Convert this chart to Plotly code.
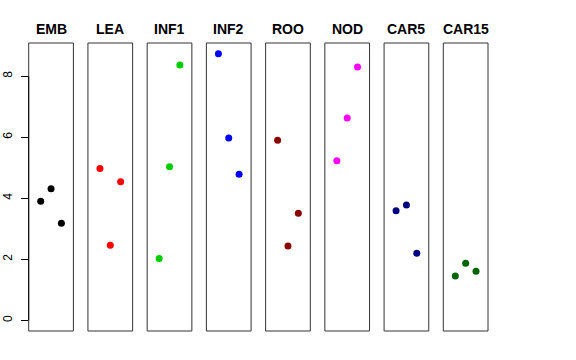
import plotly.graph_objects as go

categories = ["EMB", "LEA", "INF1", "INF2", "ROO", "NOD", "CAR5", "CAR15"]
rep = [1, 2, 3]
emb = [3.90, 4.31, 3.18]
lea = [4.98, 2.46, 4.54]
inf1 = [2.03, 5.03, 8.37]
inf2 = [8.74, 5.98, 4.79]
roo = [5.90, 2.44, 3.51]
nod = [5.23, 6.63, 8.30]
car5 = [3.59, 3.78, 2.20]
car15 = [1.45, 1.87, 1.61]
series = [emb, lea, inf1, inf2, roo, nod, car5, car15]
colors = ["#000000", "#FF0000", "#00CD00", "#0000FF", "#8B0000", "#FF00FF", "#000080", "#006400"]
yticks = [0, 2, 4, 6, 8]

W, H = 576, 360
left0, step, pw = 28.7, 59.23, 44.7
top_px, bot_px = 43, 331

ymax = max(max(s) for s in series)
ypad = 0.04 * ymax
yrange = [-ypad, ymax + ypad]
xrange_ = [-0.16, 4.16]

fig = go.Figure()
layout = dict(width=W, height=H, margin=dict(l=0, r=0, t=0, b=0, autoexpand=False),
              paper_bgcolor="white", plot_bgcolor="white", showlegend=False,
              font=dict(family="Liberation Sans, Arial, sans-serif", color="black"))
shapes = []
annotations = []
for i, (cat, vals, col) in enumerate(zip(categories, series, colors)):
    n = "" if i == 0 else str(i + 1)
    fig.add_trace(go.Scatter(x=rep, y=vals, mode="markers", xaxis="x" + n, yaxis="y" + n,
                             marker=dict(color=col, size=7, line=dict(width=0))))
    x0 = (left0 + i * step) / W
    x1 = (left0 + i * step + pw) / W
    layout["xaxis" + n] = dict(domain=[x0, x1], range=xrange_, visible=False, fixedrange=True)
    ya = dict(domain=[(H - bot_px) / H, (H - top_px) / H], range=yrange, anchor="x" + n,
              showgrid=False, zeroline=False, showline=False, fixedrange=True)
    if i == 0:
        ya.update(tickvals=yticks, ticks="outside", ticklen=7, tickwidth=1, tickcolor="black",
                  tickangle=-90, tickfont=dict(size=12, color="black"), ticklabelstandoff=4)
    else:
        ya.update(showticklabels=False, ticks="")
    layout["yaxis" + n] = ya
    shapes.append(dict(type="rect", xref="x" + n + " domain", yref="y" + n + " domain",
                       x0=0, x1=1, y0=0, y1=1, line=dict(color="#333333", width=1)))
    annotations.append(dict(text="<b>" + cat + "</b>", x=(x0 + x1) / 2, y=(H - 29) / H,
                            xref="paper", yref="paper", showarrow=False,
                            xanchor="center", yanchor="middle",
                            font=dict(size=14, color="black")))
shapes.append(dict(type="line", xref="x domain", yref="y", x0=0, x1=0, y0=yticks[0], y1=yticks[-1],
                   line=dict(color="black", width=1)))
layout["shapes"] = shapes
layout["annotations"] = annotations
fig.update_layout(**layout)
fig.write_html("out.html", config={"displayModeBar": False},
               post_script="document.body.style.margin='0';document.body.style.padding='0';")
